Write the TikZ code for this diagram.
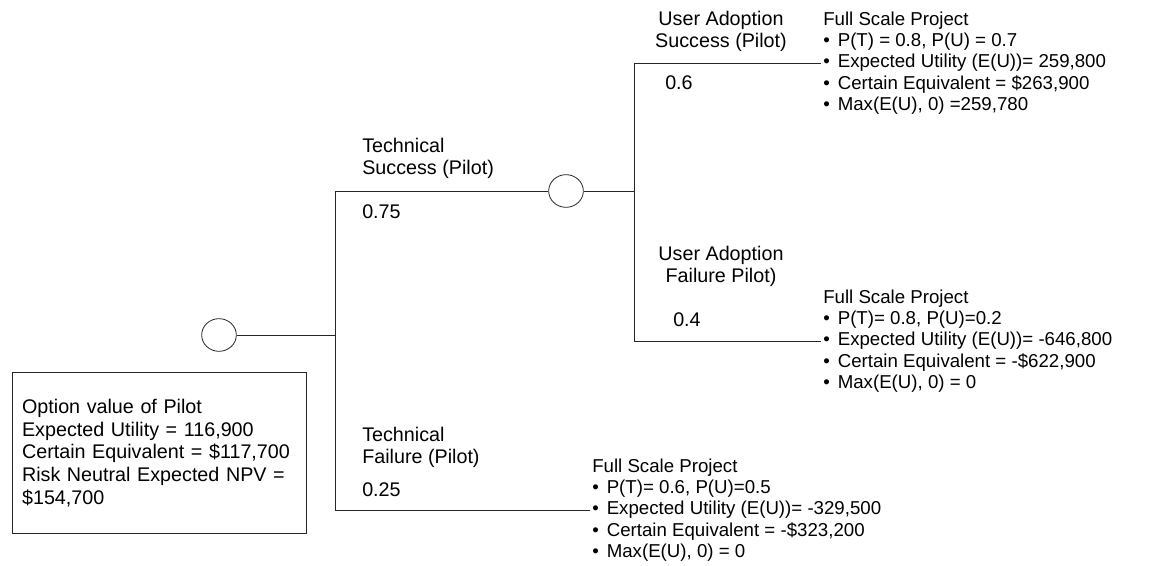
\documentclass[tikz,border=0pt]{standalone}
\usepackage{fontspec}
\setmainfont{Liberation Sans}
\usetikzlibrary{positioning, shapes.geometric}

\begin{document}
\begin{tikzpicture}[
    x=0.75pt, y=-0.75pt,
    branch/.style={draw=black!85, line width=0.7pt},
    chance/.style={ellipse, draw=black!85, line width=0.6pt,
                   minimum width=26pt, minimum height=24.5pt, inner sep=0pt},
    eventlbl/.style={inner sep=0pt, font=\fontsize{14.8}{16.4}\selectfont},
    prob/.style={anchor=west, inner sep=0pt, font=\fontsize{14.8}{16.4}\selectfont},
    payoff/.style={anchor=west, align=left, inner sep=0pt,
                   font=\fontsize{14}{16}\selectfont},
    infobox/.style={rectangle, draw=black!85, line width=0.6pt, anchor=north west,
                    minimum width=220.5pt, minimum height=120.75pt,
                    text width=206pt, inner xsep=7pt, align=left,
                    font=\fontsize{14.8}{17}\selectfont},
  ]
    \useasboundingbox (0,0) rectangle (1173,566);

    \node[chance] (root) at (219,335) {};
    \node[chance] (c1) at (566,191) {};

    \coordinate (fork1) at (335,335);
    \coordinate (ts) at (335,191);
    \coordinate (tf) at (335,510);
    \coordinate (fork2) at (634,191);
    \coordinate (us) at (634,63);
    \coordinate (uf) at (634,341);

    \node[payoff] (out1) at (823,63) {
      Full Scale Project\\
      \textbullet\hspace{6pt}P(T) = 0.8, P(U) = 0.7\\
      \textbullet\hspace{6pt}Expected Utility (E(U))= 259,800\\
      \textbullet\hspace{6pt}Certain Equivalent = \$263,900\\
      \textbullet\hspace{6pt}Max(E(U), 0) =259,780
    };
    \node[payoff] (out2) at (823,341) {
      Full Scale Project\\
      \textbullet\hspace{6pt}P(T)= 0.8, P(U)=0.2\\
      \textbullet\hspace{6pt}Expected Utility (E(U))= -646,800\\
      \textbullet\hspace{6pt}Certain Equivalent = -\$622,900\\
      \textbullet\hspace{6pt}Max(E(U), 0) = 0
    };
    \node[payoff] (out3) at (592,510) {
      Full Scale Project\\
      \textbullet\hspace{6pt}P(T)= 0.6, P(U)=0.5\\
      \textbullet\hspace{6pt}Expected Utility (E(U))= -329,500\\
      \textbullet\hspace{6pt}Certain Equivalent = -\$323,200\\
      \textbullet\hspace{6pt}Max(E(U), 0) = 0
    };

    \draw[branch] (root) -- (fork1);
    \draw[branch] (ts) -- (tf);
    \draw[branch] (ts) -- (c1);
    \draw[branch] (c1) -- (fork2);
    \draw[branch] (us) -- (uf);
    \draw[branch, shorten >=1.5pt] (us) -- (out1.west);
    \draw[branch, shorten >=1.5pt] (uf) -- (out2.west);
    \draw[branch, shorten >=1.5pt] (tf) -- (out3.west);

    \node[eventlbl, anchor=west, align=left] (tsl) at (362,158) {Technical\\Success (Pilot)};
    \node[prob] (tsp) at (362,212) {0.75};
    \node[eventlbl, anchor=west, align=left] (tfl) at (362,447) {Technical\\Failure (Pilot)};
    \node[prob] (tfp) at (362,490) {0.25};
    \node[eventlbl, align=center] (usl) at (721,31) {User Adoption\\Success (Pilot)};
    \node[prob] (usp) at (665,83) {0.6};
    \node[eventlbl, align=center] (ufl) at (721,266) {User Adoption\\Failure Pilot)};
    \node[prob] (ufp) at (673,320) {0.4};

    \node[infobox] (opt) at (12,372) {
      Option value of Pilot\\
      Expected Utility = 116,900\\
      Certain Equivalent = \$117,700\\
      Risk Neutral Expected NPV =\\
      \$154,700
    };
  \end{tikzpicture}
\end{document}
